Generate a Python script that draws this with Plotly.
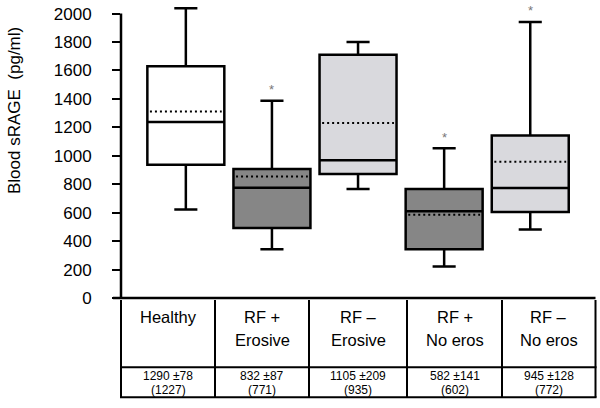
import plotly.graph_objects as go

# ---- data ----
categories = ["Healthy", "RF + Erosive", "RF \u2013 Erosive", "RF + No eros", "RF \u2013 No eros"]
header_line1 = ["Healthy", "RF +", "RF \u2013", "RF +", "RF \u2013"]
header_line2 = ["", "Erosive", "Erosive", "No eros", "No eros"]
stat_line1 = ["1290 \u00b178", "832 \u00b187", "1105 \u00b1209", "582 \u00b1141", "945 \u00b1128"]
stat_line2 = ["(1227)", "(771)", "(935)", "(602)", "(772)"]

upper_whisker = [2038, 1388, 1800, 1053, 1941]
q3_values = [1630, 907, 1711, 767, 1142]
median_values = [1237, 776, 968, 610, 774]
mean_values = [1312, 854, 1231, 586, 959]
q1_values = [937, 492, 872, 342, 605]
lower_whisker = [622, 342, 767, 221, 481]
significant = [False, True, False, True, True]

y_ticks = [0, 200, 400, 600, 800, 1000, 1200, 1400, 1600, 1800, 2000]

# ---- styling ----
fills = ["#ffffff", "#868686", "#d9d9dd", "#868686", "#d9d9dd"]
FONT = "Liberation Sans, Arial, Helvetica, sans-serif"
W, H = 600, 408
ML, MR, MT, MB = 121, 5, 0, 110
PW, PH = W - ML - MR, H - MT - MB
BOX_W = 0.894


def px2x(px):
    return (px - ML) / PW


def py2y(py):
    return (MT + PH - py) / PH


fig = go.Figure()

for i, cat in enumerate(categories):
    fig.add_trace(go.Box(
        x=[i], q1=[q1_values[i]], median=[median_values[i]], q3=[q3_values[i]],
        lowerfence=[lower_whisker[i]], upperfence=[upper_whisker[i]],
        name=cat, width=BOX_W, whiskerwidth=0.3, fillcolor=fills[i],
        line=dict(color="black", width=2.5), boxpoints=False,
        hoverinfo="skip", showlegend=False,
    ))
    fig.add_trace(go.Scatter(
        x=[i - BOX_W / 2 + 0.03, i + BOX_W / 2 - 0.03], y=[mean_values[i], mean_values[i]],
        mode="lines", line=dict(color="black", width=2, dash="2px,3px"),
        hoverinfo="skip", showlegend=False,
    ))
    if significant[i]:
        fig.add_annotation(x=i, y=upper_whisker[i], xref="x", yref="y", text="*",
                           showarrow=False, xanchor="center", yanchor="middle", yshift=11,
                           font=dict(family=FONT, size=13, color="#777777"))

shapes = []
# y axis line (only up to 2000) and x axis / table top line
shapes.append(dict(type="line", xref="paper", yref="y", x0=0, x1=0, y0=0, y1=2000,
                   line=dict(color="black", width=2.5)))
shapes.append(dict(type="line", xref="paper", yref="paper", x0=px2x(113), x1=px2x(595.5),
                   y0=0, y1=0, line=dict(color="black", width=2.5)))
# table
col_edges = [121, 215, 309, 407, 502, 595.5]
for xe in col_edges:
    shapes.append(dict(type="line", xref="paper", yref="paper", x0=px2x(xe), x1=px2x(xe),
                       y0=py2y(300), y1=py2y(397.5), line=dict(color="black", width=2)))
for ye in [367.3, 397.3]:
    shapes.append(dict(type="line", xref="paper", yref="paper", x0=px2x(120), x1=px2x(596.5),
                       y0=py2y(ye), y1=py2y(ye), line=dict(color="black", width=2)))


def label(px, py, text, size):
    fig.add_annotation(x=px2x(px), y=py2y(py), xref="paper", yref="paper", text=text,
                       showarrow=False, xanchor="center", yanchor="middle", borderpad=0,
                       font=dict(family=FONT, size=size, color="black"))


for j in range(len(categories)):
    cx = (col_edges[j] + col_edges[j + 1]) / 2
    label(cx, 316.5, header_line1[j], 16.5)
    if header_line2[j]:
        label(cx, 340, header_line2[j], 16.5)
    label(cx, 375.5, stat_line1[j], 12)
    label(cx, 389.5, stat_line2[j], 12)

# y axis title
fig.add_annotation(x=px2x(15), y=py2y(111), xref="paper", yref="paper",
                   text="Blood sRAGE  (pg/ml)", textangle=-90, showarrow=False,
                   xanchor="center", yanchor="middle",
                   font=dict(family=FONT, size=17, color="black"))

fig.update_layout(
    width=W, height=H, margin=dict(l=ML, r=MR, t=MT, b=MB),
    paper_bgcolor="white", plot_bgcolor="white",
    shapes=shapes, showlegend=False,
    xaxis=dict(range=[-0.753, 4.752], showgrid=False, zeroline=False, showline=False,
               showticklabels=False, ticks=""),
    yaxis=dict(range=[0, PH / 0.1422], showgrid=False, zeroline=False, showline=False,
               tickmode="array", tickvals=y_ticks, ticktext=[str(v) for v in y_ticks],
               ticks="outside", ticklen=8, tickwidth=2, tickcolor="black",
               ticklabelstandoff=17,
               tickfont=dict(family=FONT, size=17, color="black")),
)

fig.write_html("out.html", config={"displayModeBar": False},
               post_script="document.body.style.margin='0';")
